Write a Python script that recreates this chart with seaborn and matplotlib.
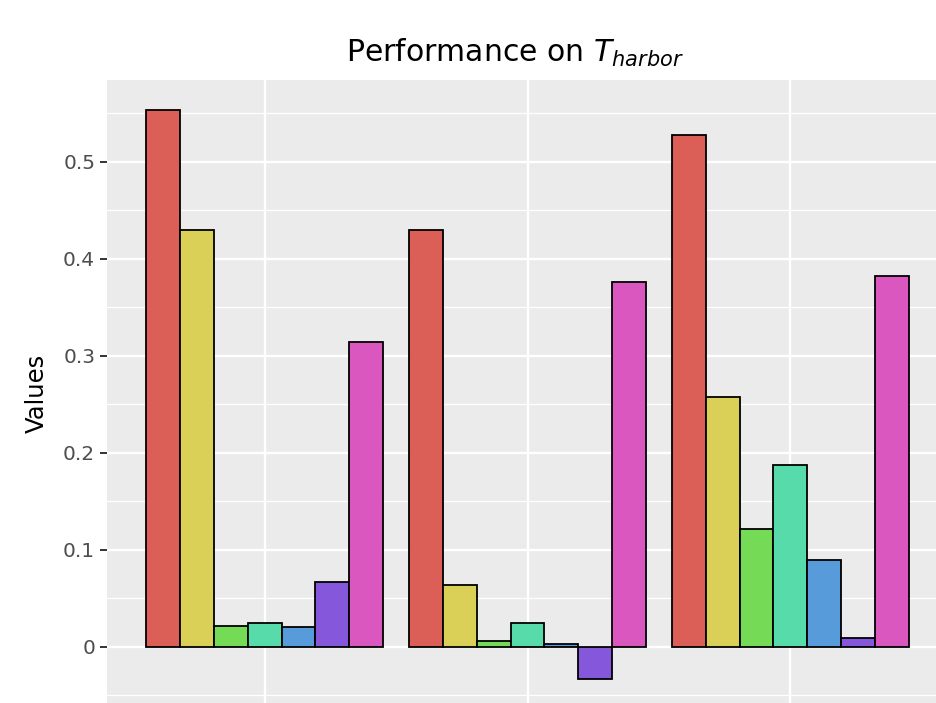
import numpy as np
import pandas as pd
import matplotlib
matplotlib.use("Agg")
import matplotlib.pyplot as plt
from matplotlib.ticker import MultipleLocator, FixedLocator
import seaborn as sns

# Data (three groups, seven series each)
groups = ["A", "B", "C"]
methods = ["M1", "M2", "M3", "M4", "M5", "M6", "M7"]
values_a = [0.554, 0.430, 0.022, 0.025, 0.020, 0.067, 0.314]
values_b = [0.430, 0.064, 0.006, 0.025, 0.003, -0.033, 0.376]
values_c = [0.528, 0.258, 0.121, 0.188, 0.090, 0.0095, 0.382]
y_ticks = [0, 0.1, 0.2, 0.3, 0.4, 0.5]
y_tick_labels = ["0", "0.1", "0.2", "0.3", "0.4", "0.5"]

df = pd.DataFrame({
    "group": np.repeat(groups, len(methods)),
    "method": methods * len(groups),
    "value": values_a + values_b + values_c,
})

sns.set_theme(style="darkgrid", rc={
    "axes.facecolor": "#EBEBEB",
    "grid.color": "white",
    "axes.edgecolor": "#EBEBEB",
})
plt.rcParams["font.family"] = ["DejaVu Sans"]

W, H = 936, 703
fig = plt.figure(figsize=(W / 100, H / 100), dpi=100)
# panel spans px x 107..948, y 80..706 (cropped at right/bottom like the reference)
ax = fig.add_axes([107 / W, (H - 706) / H, (948 - 107) / W, (706 - 80) / H])

sns.barplot(data=df, x="group", y="value", hue="method",
            palette=sns.color_palette("hls", len(methods)), saturation=1,
            edgecolor="black", linewidth=1.3, width=0.9,
            legend=False, ax=ax, zorder=3)

ax.set_xlim(-0.6, 2.6)
ax.set_ylim(-0.0610, 0.5845)
ax.yaxis.set_major_locator(FixedLocator(y_ticks))
ax.set_yticklabels(y_tick_labels)
ax.yaxis.set_minor_locator(MultipleLocator(0.05))
ax.grid(which="major", color="white", linewidth=1.7, zorder=0)
ax.grid(which="minor", axis="y", color="white", linewidth=0.9, zorder=0)
ax.set_axisbelow(True)
for s in ax.spines.values():
    s.set_visible(False)

ax.tick_params(axis="y", which="major", left=True, length=5, width=1.4,
               color="#333333", labelsize=14.5, labelcolor="#4D4D4D", pad=3.5)
ax.tick_params(axis="y", which="minor", left=False)
# x labels fall below the cropped edge in the reference
ax.tick_params(axis="x", bottom=False, labelbottom=False)
ax.set_xlabel("")
ax.set_ylabel("Values", fontsize=17.5, color="black", labelpad=10)

fig.text(515 / W, (H - 62) / H, r"Performance on $T_{harbor}$",
         ha="center", va="baseline", fontsize=21.5, color="black")

fig.savefig("out.png", dpi=100)
